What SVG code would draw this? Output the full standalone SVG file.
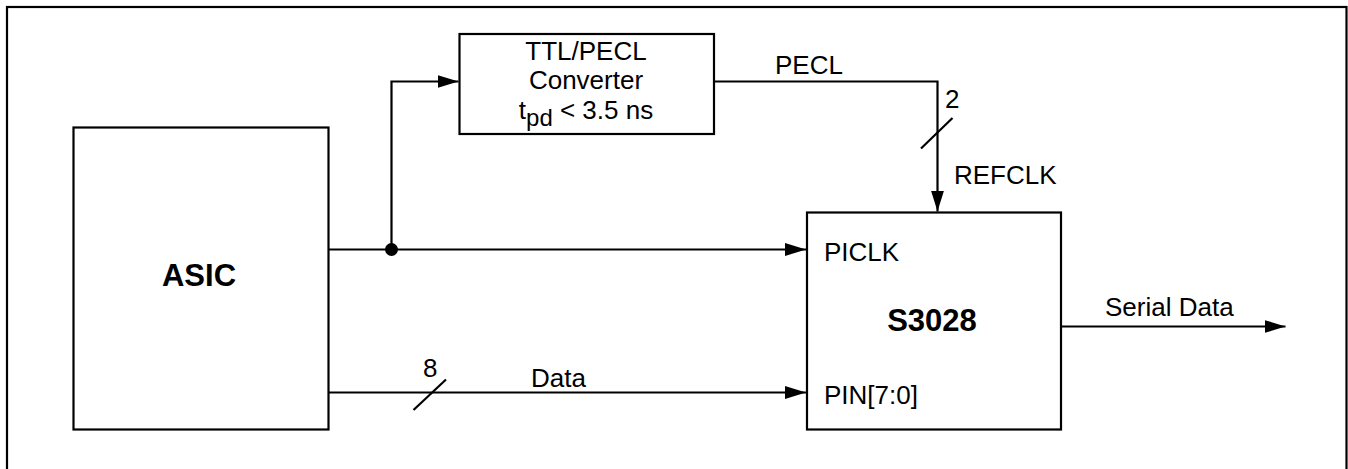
<svg xmlns="http://www.w3.org/2000/svg" width="1348" height="469" viewBox="0 0 1348 469">
<style>
.box{fill:#fff;stroke:#000;stroke-width:2.2}
.ln{fill:none;stroke:#000;stroke-width:2.2}
.t{font-family:"Liberation Sans",Arial,sans-serif;font-size:26px;fill:#000}
.b{font-family:"Liberation Sans",Arial,sans-serif;font-size:31px;font-weight:bold;fill:#000}
</style>
<defs>
<marker id="ah" markerUnits="userSpaceOnUse" markerWidth="22" markerHeight="14" refX="21" refY="6.5" orient="auto">
<path d="M0,0 L21,6.5 L0,13 z" fill="#000"/>
</marker>
</defs>
<rect x="0" y="0" width="1348" height="469" fill="#fff"/>
<rect x="7" y="7" width="1339.5" height="480" fill="none" stroke="#000" stroke-width="2.2"/>
<g id="connectors">
<path class="ln" d="M328.5,249.5 H806" marker-end="url(#ah)"/>
<path class="ln" d="M391.5,249.5 V81.5 H458.5" marker-end="url(#ah)"/>
<circle cx="391.5" cy="249.5" r="6.5" fill="#000"/>
<path class="ln" d="M714,81.5 H937.5 V211.5" marker-end="url(#ah)"/>
<path class="ln" d="M921,148.5 L952.5,118"/>
<path class="ln" d="M328.5,392.5 H806" marker-end="url(#ah)"/>
<path class="ln" d="M413.5,410 L446,379.5"/>
<path class="ln" d="M1061,326.5 H1285.5" marker-end="url(#ah)"/>
<text class="t" x="809" y="74" text-anchor="middle">PECL</text>
<text class="t" x="945" y="108">2</text>
<text class="t" x="954" y="184">REFCLK</text>
<text class="t" x="423" y="377">8</text>
<text class="t" x="531" y="387">Data</text>
<text class="t" x="1105" y="316">Serial Data</text>
</g>
<g id="asic">
<rect class="box" x="73.5" y="127.5" width="255" height="302"/>
<text class="b" x="199" y="286" text-anchor="middle">ASIC</text>
</g>
<g id="converter">
<rect class="box" x="459.5" y="34" width="254.5" height="100"/>
<text class="t" x="586" y="60" text-anchor="middle">TTL/PECL</text>
<text class="t" x="586" y="89" text-anchor="middle">Converter</text>
<text class="t" x="586" y="119" text-anchor="middle">t<tspan dy="7" font-size="24">pd</tspan><tspan dy="-7"> &lt; 3.5 ns</tspan></text>
</g>
<g id="s3028">
<rect class="box" x="807" y="212.5" width="254" height="217"/>
<text class="t" x="824" y="261">PICLK</text>
<text class="b" x="932" y="331" text-anchor="middle">S3028</text>
<text class="t" x="824" y="404">PIN[7:0]</text>
</g>
</svg>
